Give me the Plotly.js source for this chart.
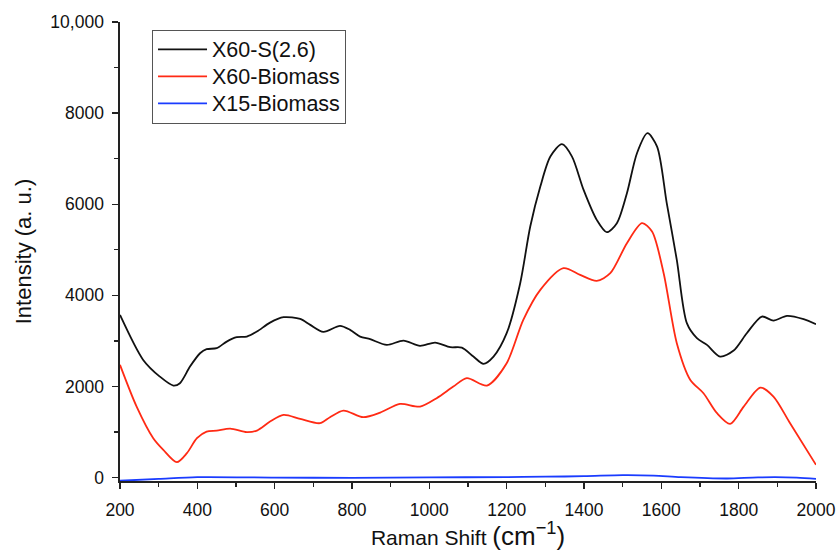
<!DOCTYPE html>
<html><head><meta charset="utf-8">
<script src="https://cdn.plot.ly/plotly-3.0.1.min.js"></script>
<style>html,body{margin:0;padding:0;background:#fff}</style>
</head><body><div id="chart" style="width:838px;height:551px"></div>
<script>
const seriesNames = ["X60-S(2.6)", "X60-Biomass", "X15-Biomass"];
const blackX = [200,260,303,338,355,381,407,424,450,476,502,528,554,588,623,666,692,726,769,795,821,847,890,933,976,1015,1054,1084,1114,1140,1166,1200,1235,1261,1287,1313,1343,1369,1399,1433,1459,1485,1511,1537,1564,1589,1614,1640,1666,1692,1718,1752,1787,1821,1860,1890,1925,1968,2000];
const blackY = [3571,2583,2217,2020,2072,2437,2730,2818,2840,2985,3081,3095,3205,3402,3520,3483,3352,3198,3330,3242,3095,3038,2913,3007,2891,2963,2862,2853,2656,2496,2656,3169,4267,5510,6388,7046,7318,7046,6315,5657,5386,5584,6242,7120,7559,7266,6023,4779,3389,3060,2913,2656,2788,3169,3534,3446,3549,3477,3367];
const redX = [200,243,286,312,347,373,399,424,450,485,528,554,588,623,666,717,743,778,829,873,924,976,1019,1062,1097,1149,1200,1243,1287,1347,1390,1433,1468,1511,1550,1576,1606,1640,1675,1709,1744,1778,1813,1856,1890,1933,2000];
const redY = [2474,1558,864,608,338,535,864,1010,1032,1076,996,1032,1229,1376,1288,1194,1326,1471,1326,1427,1618,1558,1743,1997,2182,2020,2511,3462,4120,4596,4449,4318,4486,5145,5584,5400,4486,2950,2144,1852,1413,1179,1558,1976,1778,1194,279];
const blueX = [200,300,400,600,800,1000,1200,1300,1400,1500,1580,1650,1770,1850,1950,2000];
const blueY = [-70,-30,10,0,-5,5,10,20,30,55,45,10,-20,5,0,-30];
const yTickVals = [0,2000,4000,6000,8000,10000];
const yTickText = ["0","2000","4000","6000","8000","10,000"];
const xTickVals = [200,400,600,800,1000,1200,1400,1600,1800,2000];

const FONT = "Liberation Sans, Arial, sans-serif";
const mk = (x, y, name, color) => ({
  x, y, name: "<span style='font-size:21.5px'>" + name + "</span>", type: "scatter", mode: "lines",
  line: {color, width: 1.8, shape: "spline", smoothing: 0.8}
});
const data = [
  mk(blackX, blackY, seriesNames[0], "#111111"),
  mk(redX, redY, seriesNames[1], "#ff2a14"),
  mk(blueX, blueY, seriesNames[2], "#1a3cff")
];
const axisCommon = {
  showline: true, linecolor: "#222", linewidth: 1.6, showgrid: false, zeroline: false,
  ticks: "outside", ticklen: 6, tickwidth: 1.4, tickcolor: "#222",
  tickfont: {family: FONT, size: 17.5, color: "#111"}
};
const layout = {
  width: 838, height: 551,
  margin: {l: 120, r: 22, t: 22, b: 70},
  paper_bgcolor: "#fff", plot_bgcolor: "#fff",
  font: {family: FONT, color: "#111"},
  showlegend: true,
  legend: {
    x: 0.046, y: 0.983, xanchor: "left", yanchor: "top",
    bgcolor: "#fff", bordercolor: "#555", borderwidth: 1,
    font: {family: FONT, size: 18.5, color: "#111"},
    itemwidth: 49
  },
  xaxis: Object.assign({}, axisCommon, {
    range: [200, 2000], tickvals: xTickVals, ticklabelstandoff: 6,
    minor: {dtick: 100, ticks: "outside", ticklen: 4, tickwidth: 1.2, tickcolor: "#222"},
    title: {text: "Raman Shift <span style='font-size:26px'>(cm<sup>−1</sup>)</span>",
            font: {family: FONT, size: 21, color: "#111"}, standoff: 14}
  }),
  yaxis: Object.assign({}, axisCommon, {
    range: [-75, 10000], tickvals: yTickVals, ticktext: yTickText, ticklabelstandoff: 5,
    minor: {dtick: 1000, ticks: "outside", ticklen: 4, tickwidth: 1.2, tickcolor: "#222"},
    title: {text: "Intensity (a. u.)", font: {family: FONT, size: 22, color: "#111"}, standoff: 12}
  })
};
Plotly.newPlot("chart", data, layout, {displayModeBar: false, staticPlot: true});
</script></body></html>
